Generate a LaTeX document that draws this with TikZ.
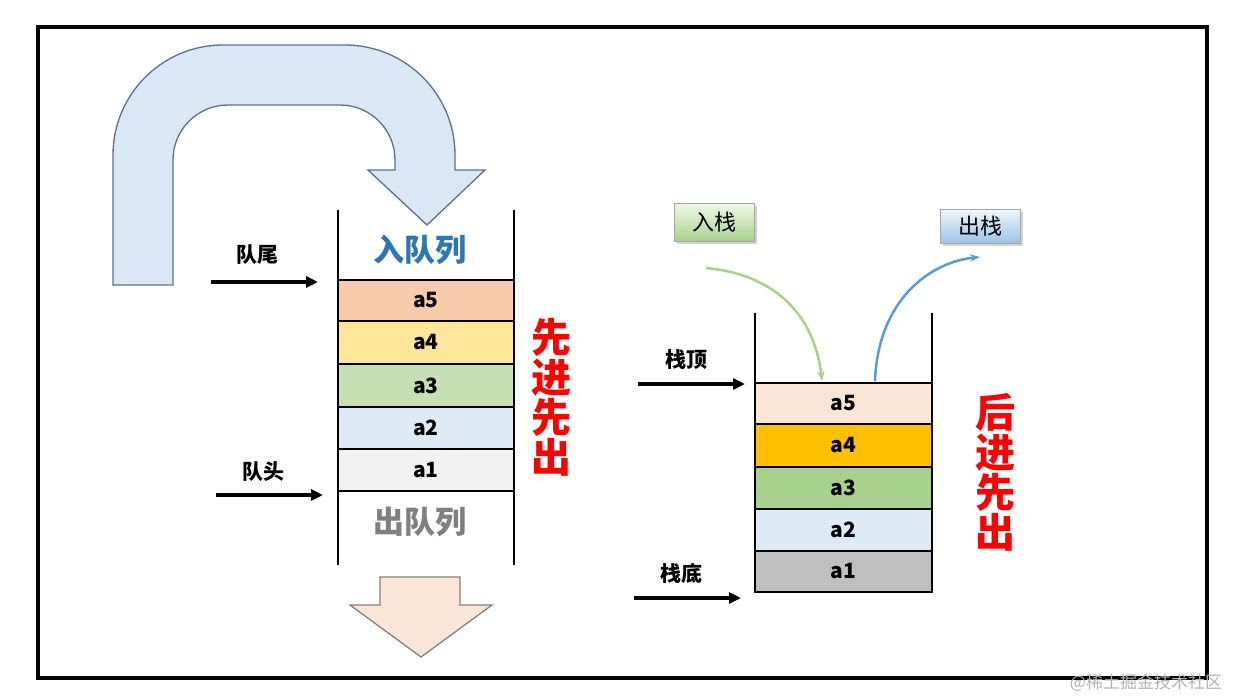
\documentclass[tikz,border=0pt]{standalone}
\usepackage{fontspec}
\setmainfont{Noto Sans CJK SC}
\usetikzlibrary{arrows.meta,shadows}
\definecolor{ublue}{HTML}{DAE8F6}
\definecolor{ustroke}{HTML}{5B7090}
\begin{document}
\begin{tikzpicture}[x=1pt,y=-1pt,
  cell/.style={draw=black,line width=1.5pt,minimum width=176pt,inner sep=0pt,font=\bfseries\fontsize{21}{21}\selectfont},
  lbl/.style={font=\bfseries\fontsize{21}{21}\selectfont},
  parr/.style={-{Triangle[length=12pt,width=11pt]},line width=3.5pt},
  red4/.style={text=red,font=\bfseries\fontsize{40}{40}\selectfont,align=center,text width=44pt},
  tag/.style={draw=gray!70,minimum width=80pt,minimum height=38pt,font=\fontsize{22}{22}\selectfont,drop shadow={opacity=0.35,shadow xshift=3pt,shadow yshift=-3pt}}]
\useasboundingbox (0,0) rectangle (1234,699);
\draw[line width=4pt] (38,27) rectangle (1207,678);
% U arrow
\path[fill=ublue,draw=ustroke,line width=1.3pt]
 (113,285) [rounded corners=110] -- (113,45) -- (455,45) [sharp corners] -- (455,170) -- (485,170) -- (427,225) -- (368,170) -- (395,170) [rounded corners=55] -- (395,105) -- (173,105) [sharp corners] -- (173,285) -- cycle;
% queue
\draw[line width=1.5pt] (338,210) -- (338,565) (514,210) -- (514,565);
\node[cell,fill={rgb,255:red,248;green,203;blue,173},minimum height=41pt] (q5) at (426,300.5) {a5};
\node[cell,fill={rgb,255:red,255;green,230;blue,153},minimum height=43pt] (q4) at (426,342.5) {a4};
\node[cell,fill={rgb,255:red,197;green,224;blue,180},minimum height=43pt] (q3) at (426,385.5) {a3};
\node[cell,fill={rgb,255:red,222;green,235;blue,247},minimum height=42pt] (q2) at (426,428) {a2};
\node[cell,fill={rgb,255:red,242;green,242;blue,242},minimum height=42pt] (q1) at (426,470) {a1};
\node[font=\bfseries\fontsize{31}{31}\selectfont,text={rgb,255:red,46;green,117;blue,182}] (in) at (420,250) {入队列};
\node[font=\bfseries\fontsize{31}{31}\selectfont,text=gray] (out) at (420,522) {出队列};
\path[fill={rgb,255:red,251;green,229;blue,214},draw=gray,line width=1.3pt]
 (380,577) -- (460,577) -- (460,605) -- (492,605) -- (421,657) -- (350,605) -- (380,605) -- cycle;
\node[lbl] (qt) at (257,255) {队尾};
\coordinate (qta) at (211,282); \coordinate (qtb) at (318,282);
\draw[parr] (qta) -- (qtb);
\node[lbl] (qh) at (263,472) {队头};
\coordinate (qha) at (216,495); \coordinate (qhb) at (323,495);
\draw[parr] (qha) -- (qhb);
\node[red4] (fifo) at (551,397) {先\\进\\先\\出};
% stack
\draw[line width=1.5pt] (755,313) -- (755,592) (932,313) -- (932,592);
\node[cell,minimum width=177pt,fill={rgb,255:red,251;green,229;blue,214},minimum height=41pt] (s5) at (843.5,403.5) {a5};
\node[cell,minimum width=177pt,fill={rgb,255:red,255;green,192;blue,0},minimum height=43pt] (s4) at (843.5,445.5) {a4};
\node[cell,minimum width=177pt,fill={rgb,255:red,169;green,209;blue,142},minimum height=42pt] (s3) at (843.5,488) {a3};
\node[cell,minimum width=177pt,fill={rgb,255:red,222;green,235;blue,247},minimum height=42pt] (s2) at (843.5,530) {a2};
\node[cell,minimum width=177pt,fill={rgb,255:red,191;green,191;blue,191},minimum height=41pt] (s1) at (843.5,571.5) {a1};
\node[lbl] (st) at (686,360) {栈顶};
\coordinate (sta) at (638,384); \coordinate (stb) at (745,384);
\draw[parr] (sta) -- (stb);
\node[lbl] (sb) at (681,573) {栈底};
\coordinate (sba) at (634,598); \coordinate (sbb) at (741,598);
\draw[parr] (sba) -- (sbb);
\node[red4] (lifo) at (995,472) {后\\进\\先\\出};
% tags
\node[tag,top color={rgb,255:red,240;green,248;blue,232},bottom color={rgb,255:red,169;green,209;blue,142}] (push) at (714,222) {入栈};
\node[tag,minimum height=34pt,top color={rgb,255:red,240;green,246;blue,252},bottom color={rgb,255:red,157;green,195;blue,230}] (pop) at (980,226) {出栈};
\coordinate (g0) at (706,268); \coordinate (g1) at (822,381);
\draw[-{Stealth[length=10pt]},line width=2.5pt,color={rgb,255:red,169;green,209;blue,142}] (g0) .. controls (780,275) and (815,320) .. (g1);
\coordinate (b0) at (875,381); \coordinate (b1) at (980,257);
\draw[-{Stealth[length=10pt]},line width=2.5pt,color={rgb,255:red,91;green,155;blue,213}] (b0) .. controls (878,300) and (930,262) .. (b1);
\node[text=gray!60,font=\fontsize{17}{17}\selectfont] (wm) at (1146,683) {@稀土掘金技术社区};
\end{tikzpicture}
\end{document}
